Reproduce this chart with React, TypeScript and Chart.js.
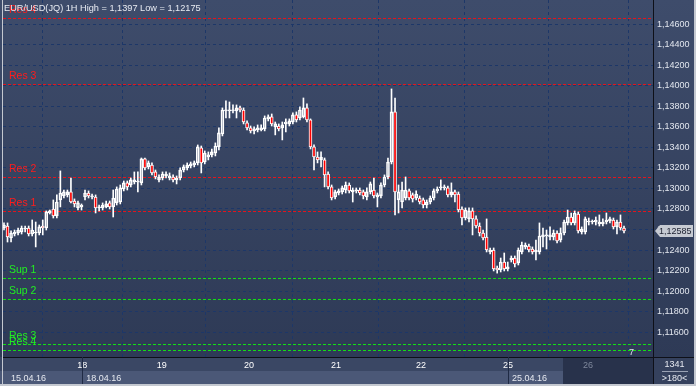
import React, { useEffect, useRef } from 'react';
import { Chart, registerables } from 'chart.js';

Chart.register(...registerables);

const opens = [
  1.12615,1.12634,1.12517,1.12556,1.12566,1.12576,1.12605,1.12615,1.12556,1.12566,
  1.12566,1.12634,1.12615,1.12761,1.12800,1.12732,1.12888,1.12927,1.12937,1.12966,
  1.12878,1.12810,1.12820,1.12917,1.12956,1.12917,1.12917,1.12810,1.12810,1.12820,
  1.12859,1.12820,1.12859,1.12868,1.12995,1.13054,1.13034,1.13063,1.13063,1.13054,
  1.13288,1.13210,1.13229,1.13161,1.13083,1.13102,1.13122,1.13102,1.13112,1.13083,
  1.13102,1.13180,1.13200,1.13219,1.13229,1.13249,1.13395,1.13258,1.13307,1.13327,
  1.13346,1.13405,1.13531,1.13756,1.13756,1.13756,1.13756,1.13785,1.13765,1.13639,
  1.13590,1.13561,1.13570,1.13570,1.13580,1.13678,1.13697,1.13600,1.13609,1.13590,
  1.13629,1.13629,1.13648,1.13717,1.13687,1.13697,1.13785,1.13668,1.13405,1.13307,
  1.13278,1.13278,1.13141,1.13015,1.12917,1.12956,1.12966,1.12985,1.13034,1.12966,
  1.12976,1.12985,1.12966,1.12917,1.12966,1.12985,1.12917,1.12927,1.13034,1.13112,
  1.13258,1.13746,1.12888,1.12868,1.12907,1.12976,1.12937,1.12907,1.12907,1.12888,
  1.12839,1.12868,1.12907,1.12976,1.13005,1.13005,1.13005,1.12937,1.12966,1.12946,
  1.12800,1.12712,1.12703,1.12781,1.12703,1.12634,1.12566,1.12527,1.12381,1.12400,
  1.12225,1.12205,1.12283,1.12215,1.12303,1.12322,1.12274,1.12381,1.12430,1.12439,
  1.12410,1.12381,1.12381,1.12527,1.12537,1.12527,1.12527,1.12566,1.12498,1.12566,
  1.12664,1.12722,1.12664,1.12751,1.12576,1.12576,1.12673,1.12673,1.12673,1.12654,
  1.12654,1.12673,1.12683,1.12693,1.12625,1.12673,1.12615,
];

const highs = [
  1.12664,1.12664,1.12586,1.12595,1.12615,1.12634,1.12634,1.12634,1.12693,1.12673,
  1.12644,1.12693,1.12781,1.12790,1.12888,1.12937,1.13171,1.12985,1.12985,1.13102,
  1.12898,1.12878,1.12849,1.12985,1.12976,1.12946,1.12937,1.12839,1.12859,1.12878,
  1.12878,1.12985,1.13015,1.13034,1.13073,1.13073,1.13102,1.13161,1.13161,1.13297,
  1.13297,1.13268,1.13249,1.13180,1.13132,1.13161,1.13161,1.13151,1.13132,1.13122,
  1.13200,1.13229,1.13249,1.13258,1.13268,1.13424,1.13414,1.13366,1.13356,1.13385,
  1.13444,1.13590,1.13785,1.13853,1.13843,1.13814,1.13814,1.13804,1.13785,1.13658,
  1.13609,1.13600,1.13619,1.13619,1.13707,1.13717,1.13726,1.13648,1.13629,1.13648,
  1.13678,1.13678,1.13736,1.13746,1.13795,1.13882,1.13824,1.13678,1.13424,1.13356,
  1.13356,1.13297,1.13161,1.13034,1.12985,1.12995,1.13024,1.13063,1.13054,1.13005,
  1.13005,1.13005,1.12985,1.13005,1.13063,1.13102,1.12956,1.13054,1.13132,1.13297,
  1.13970,1.13882,1.13034,1.13063,1.13112,1.12995,1.12956,1.12976,1.12927,1.12907,
  1.12888,1.12927,1.12995,1.13015,1.13083,1.13034,1.13024,1.13054,1.12985,1.12966,
  1.12820,1.12810,1.12810,1.12810,1.12732,1.12664,1.12595,1.12703,1.12420,1.12420,
  1.12244,1.12322,1.12371,1.12283,1.12342,1.12342,1.12420,1.12478,1.12469,1.12459,
  1.12430,1.12498,1.12664,1.12615,1.12595,1.12625,1.12595,1.12586,1.12615,1.12693,
  1.12790,1.12761,1.12781,1.12771,1.12625,1.12722,1.12712,1.12693,1.12722,1.12742,
  1.12703,1.12761,1.12722,1.12712,1.12693,1.12742,1.12634,
];

const lows = [
  1.12595,1.12478,1.12478,1.12537,1.12547,1.12556,1.12576,1.12537,1.12537,1.12430,
  1.12547,1.12547,1.12595,1.12751,1.12712,1.12712,1.12820,1.12907,1.12917,1.12859,
  1.12820,1.12790,1.12790,1.12888,1.12907,1.12898,1.12761,1.12781,1.12790,1.12810,
  1.12800,1.12722,1.12839,1.12849,1.12976,1.12985,1.13015,1.13044,1.12966,1.13034,
  1.13180,1.13190,1.13132,1.13093,1.13063,1.13083,1.13102,1.13083,1.13063,1.13044,
  1.13083,1.13161,1.13180,1.13200,1.13210,1.13229,1.13151,1.13239,1.13278,1.13307,
  1.13317,1.13375,1.13512,1.13687,1.13687,1.13736,1.13687,1.13746,1.13629,1.13570,
  1.13541,1.13531,1.13551,1.13561,1.13561,1.13658,1.13609,1.13522,1.13561,1.13473,
  1.13551,1.13609,1.13629,1.13648,1.13668,1.13687,1.13648,1.13385,1.13180,1.13249,
  1.13210,1.13015,1.12995,1.12888,1.12898,1.12937,1.12946,1.12956,1.12956,1.12868,
  1.12956,1.12937,1.12898,1.12888,1.12946,1.12907,1.12820,1.12907,1.13015,1.13093,
  1.13239,1.12742,1.12761,1.12810,1.12888,1.12888,1.12868,1.12888,1.12849,1.12810,
  1.12810,1.12849,1.12888,1.12956,1.12985,1.12985,1.12917,1.12917,1.12868,1.12771,
  1.12644,1.12693,1.12673,1.12547,1.12615,1.12537,1.12498,1.12381,1.12361,1.12196,
  1.12175,1.12186,1.12196,1.12196,1.12283,1.12235,1.12254,1.12361,1.12410,1.12381,
  1.12361,1.12303,1.12361,1.12430,1.12410,1.12498,1.12498,1.12469,1.12478,1.12547,
  1.12644,1.12644,1.12644,1.12566,1.12556,1.12556,1.12644,1.12654,1.12644,1.12634,
  1.12634,1.12654,1.12664,1.12605,1.12556,1.12595,1.12566,
];

const closes = [
  1.12644,1.12527,1.12566,1.12576,1.12595,1.12615,1.12615,1.12556,1.12595,1.12568,
  1.12625,1.12615,1.12771,1.12781,1.12732,1.12868,1.12956,1.12966,1.12966,1.12868,
  1.12849,1.12859,1.12839,1.12956,1.12927,1.12927,1.12810,1.12812,1.12839,1.12849,
  1.12820,1.12907,1.12995,1.13005,1.13054,1.13015,1.13083,1.13083,1.13073,1.13288,
  1.13200,1.13249,1.13151,1.13112,1.13112,1.13141,1.13141,1.13122,1.13083,1.13102,
  1.13180,1.13210,1.13229,1.13239,1.13249,1.13405,1.13249,1.13346,1.13327,1.13356,
  1.13414,1.13541,1.13765,1.13765,1.13765,1.13765,1.13785,1.13765,1.13648,1.13590,
  1.13561,1.13580,1.13590,1.13590,1.13687,1.13697,1.13629,1.13629,1.13580,1.13619,
  1.13648,1.13658,1.13717,1.13668,1.13765,1.13785,1.13668,1.13405,1.13307,1.13278,
  1.13307,1.13132,1.13015,1.12907,1.12966,1.12976,1.13005,1.13034,1.12976,1.12985,
  1.12985,1.12956,1.12927,1.12966,1.13044,1.12927,1.12937,1.13034,1.13112,1.13258,
  1.13746,1.12966,1.12966,1.12985,1.12985,1.12907,1.12898,1.12946,1.12868,1.12839,
  1.12868,1.12907,1.12976,1.12995,1.13015,1.13015,1.12937,1.12966,1.12937,1.12790,
  1.12712,1.12790,1.12781,1.12703,1.12634,1.12566,1.12517,1.12400,1.12400,1.12215,
  1.12205,1.12283,1.12215,1.12235,1.12322,1.12264,1.12400,1.12449,1.12449,1.12400,
  1.12381,1.12400,1.12537,1.12547,1.12547,1.12547,1.12566,1.12488,1.12566,1.12673,
  1.12722,1.12664,1.12761,1.12586,1.12605,1.12703,1.12683,1.12683,1.12693,1.12673,
  1.12673,1.12693,1.12703,1.12625,1.12673,1.12615,1.12585,
];

// day boundaries (in candle index units) and their labels
const dayLabels = ['18', '19', '20', '21', '22', '25', '26'];
const dayStarts = [22.23, 44.77, 69.55, 94.25, 118.37, 143.07, 165.78];
const dateLabels = ['15.04.16', '18.04.16', '25.04.16'];
const dateStarts = [-0.28, 22.23, 143.07];
const futureStart = 158.7;

const yTickValues = [1.116, 1.118, 1.12, 1.122, 1.124, 1.126, 1.128, 1.13, 1.132, 1.134, 1.136, 1.138, 1.14, 1.142, 1.144, 1.146];
const yMin = 1.113573;
const yMax = 1.148368;
const xMin = -0.284;
const xMax = 184.23;

const levelNames = ['Res 4', 'Res 3', 'Res 2', 'Res 1', 'Sup 1', 'Sup 2', 'Res 3', 'Res 4'];
const levelValues = [1.14662, 1.14016, 1.13109, 1.12781, 1.12124, 1.1192, 1.11481, 1.11425];
const levelKinds = ['res', 'res', 'res', 'res', 'sup', 'sup', 'sup', 'sup'];

const symbolTitle = 'EUR/USD(JQ) 1H';
const periodHigh = 1.1397;
const periodLow = 1.12175;
const barTotal = '1341';
const visibleBars = '>180<';
const pageLabel = '7';

const FONT = "'Liberation Sans', Arial, sans-serif";
const fmt = (v: number) => String(v).replace('.', ',');

const bgPlugin = {
  id: 'bgPlugin',
  beforeDraw(chart: any) {
    const { ctx, chartArea: a, width, height } = chart;
    const xs = chart.scales.x;
    ctx.save();
    const g = ctx.createLinearGradient(0, 0, 0, a.bottom);
    g.addColorStop(0, '#3e4c6b');
    g.addColorStop(1, '#2e3a56');
    ctx.fillStyle = g;
    ctx.fillRect(0, 0, width, a.bottom);
    const fx = Math.round(xs.getPixelForValue(futureStart));
    ctx.fillStyle = '#3a4764';
    ctx.fillRect(0, a.bottom, fx, 14);
    ctx.fillStyle = '#4b5877';
    ctx.fillRect(0, a.bottom + 14, fx, height - a.bottom - 14);
    ctx.fillStyle = '#28324b';
    ctx.fillRect(fx, a.bottom, a.right - fx, height - a.bottom);
    ctx.fillStyle = '#35415d';
    ctx.fillRect(a.right, a.bottom, width - a.right, height - a.bottom);
    ctx.restore();
  },
};

const levelPlugin = {
  id: 'levelPlugin',
  beforeDatasetsDraw(chart: any) {
    const { ctx, chartArea: a } = chart;
    const ys = chart.scales.y;
    ctx.save();
    ctx.lineWidth = 1;
    ctx.setLineDash([3, 2]);
    levelValues.forEach((v, i) => {
      const y = Math.round(ys.getPixelForValue(v)) + 0.5;
      ctx.strokeStyle = levelKinds[i] === 'res' && i < 4 ? '#e4141c' : '#12e012';
      ctx.beginPath();
      ctx.moveTo(a.left, y);
      ctx.lineTo(a.right, y);
      ctx.stroke();
    });
    ctx.restore();
  },
};

const overlayPlugin = {
  id: 'overlayPlugin',
  afterDraw(chart: any) {
    const { ctx, chartArea: a, width, height } = chart;
    const ys = chart.scales.y;
    const xs = chart.scales.x;
    ctx.save();
    // level labels
    ctx.font = `10.5px ${FONT}`;
    ctx.textAlign = 'left';
    ctx.textBaseline = 'middle';
    levelValues.forEach((v, i) => {
      const y = ys.getPixelForValue(v);
      ctx.fillStyle = i < 4 ? '#ff1c1c' : '#22ee22';
      ctx.fillText(levelNames[i], 9, y - 8);
    });
    // title
    ctx.font = `9.2px ${FONT}`;
    ctx.fillStyle = '#e8ebf2';
    ctx.fillText(`${symbolTitle} High = ${fmt(periodHigh)} Low = ${fmt(periodLow)}`, 4, 8.5);

    // frame lines
    ctx.fillStyle = '#0e1018';
    ctx.fillRect(a.right, 0, 1, height);
    ctx.fillRect(a.left, a.bottom, width - a.left, 1);
    ctx.fillStyle = '#c4c8d0';
    ctx.fillRect(2, 0, 1, height);
    ctx.fillRect(width - 2, 0, 2, height);
    ctx.fillRect(0, height - 2, width, 2);

    // date separators and labels in bottom strip
    ctx.fillStyle = '#1f2a44';
    dateStarts.forEach((d, i) => {
      if (i === 0) return;
      const x = Math.round(xs.getPixelForValue(d));
      ctx.fillRect(x, a.bottom, 1, height - a.bottom - 2);
    });
    ctx.font = `9px ${FONT}`;
    ctx.fillStyle = '#e6e9f0';
    dateLabels.forEach((t, i) => {
      const x = i === 0 ? a.left + 8 : xs.getPixelForValue(dateStarts[i]) + 4;
      ctx.fillText(t, x, a.bottom + 22);
    });

    // page label
    ctx.fillStyle = '#e6e9f0';
    ctx.fillText(pageLabel, 629, a.bottom - 4);

    // bottom right box
    ctx.textAlign = 'center';
    ctx.fillText(barTotal, (a.right + width) / 2, a.bottom + 7.5);
    ctx.fillText(visibleBars, (a.right + width) / 2, a.bottom + 21.5);
    ctx.fillStyle = '#9aa2b4';
    ctx.fillRect(a.right + 9, a.bottom + 14, 26, 1);

    // current price tag
    const last = closes[closes.length - 1];
    const py = Math.round(ys.getPixelForValue(last));
    ctx.fillStyle = '#c6cad2';
    ctx.beginPath();
    ctx.moveTo(a.right + 2, py);
    ctx.lineTo(a.right + 7, py - 6);
    ctx.lineTo(width - 3, py - 6);
    ctx.lineTo(width - 3, py + 6);
    ctx.lineTo(a.right + 7, py + 6);
    ctx.closePath();
    ctx.fill();
    ctx.fillStyle = '#1c2030';
    ctx.textAlign = 'left';
    ctx.font = `9px ${FONT}`;
    ctx.fillText(fmt(last), a.right + 6, py + 0.5);
    ctx.restore();
  },
};

export default function App() {
  const ref = useRef<HTMLCanvasElement>(null);
  useEffect(() => {
    document.body.style.margin = '0';
    const canvas = ref.current;
    if (!canvas) return;
    const idx = opens.map((_, i) => i);
    const bodies = idx.map((i) => ({ x: i, y: [opens[i], closes[i]] }));
    const upper = idx.map((i) => ({ x: i, y: [Math.max(opens[i], closes[i]), highs[i]] }));
    const lower = idx.map((i) => ({ x: i, y: [lows[i], Math.min(opens[i], closes[i])] }));
    const chart = new Chart(canvas, {
      type: 'bar',
      data: {
        datasets: [
          {
            data: bodies as any,
            barThickness: 3,
            borderWidth: 1,
            borderColor: '#ffffff',
            borderSkipped: false,
            backgroundColor: idx.map((i) => (closes[i] < opens[i] ? '#ff0000' : 'rgba(0,0,0,0)')),
            grouped: false,
            minBarLength: 1,
          } as any,
          { data: upper as any, barThickness: 1, backgroundColor: '#ffffff', borderWidth: 0, grouped: false } as any,
          { data: lower as any, barThickness: 1, backgroundColor: '#ffffff', borderWidth: 0, grouped: false } as any,
        ],
      },
      options: {
        responsive: false,
        maintainAspectRatio: false,
        animation: false,
        devicePixelRatio: 1,
        layout: { padding: { left: 3, right: 0, top: 0, bottom: 0 } },
        plugins: { legend: { display: false }, tooltip: { enabled: false }, title: { display: false } },
        scales: {
          x: {
            type: 'linear',
            min: xMin,
            max: xMax,
            bounds: 'data',
            offset: false,
            afterBuildTicks: (s: any) => {
              s.ticks = dayStarts.map((v) => ({ value: v }));
            },
            afterFit: (s: any) => {
              s.height = 29;
              s.paddingLeft = 0;
              s.paddingRight = 0;
              s.paddingTop = 0;
              s.paddingBottom = 0;
            },
            ticks: {
              autoSkip: false,
              maxRotation: 0,
              padding: 3,
              font: { family: FONT, size: 9 },
              color: (c: any) => (c.tick && c.tick.value > futureStart ? '#7f889c' : '#ffffff'),
              callback: (_v: any, i: number) => dayLabels[i],
            },
            grid: { color: '#1d3768', drawTicks: false, lineWidth: 1 },
            border: { display: false, dash: [3, 3] },
          },
          y: {
            type: 'linear',
            position: 'right',
            min: yMin,
            max: yMax,
            bounds: 'data',
            afterBuildTicks: (s: any) => {
              s.ticks = yTickValues.map((v) => ({ value: v }));
            },
            afterFit: (s: any) => {
              s.width = 43;
              s.paddingTop = 0;
              s.paddingBottom = 0;
              s.paddingLeft = 0;
              s.paddingRight = 0;
            },
            ticks: {
              padding: 4,
              crossAlign: 'near',
              font: { family: FONT, size: 9 },
              color: '#e2e6ee',
              callback: (v: any) => Number(v).toFixed(5).replace('.', ','),
            },
            grid: { color: '#1d3768', drawTicks: false, lineWidth: 1 },
            border: { display: false, dash: [3, 3] },
          },
        },
      } as any,
      plugins: [bgPlugin, levelPlugin, overlayPlugin],
    });
    return () => chart.destroy();
  }, []);
  return <canvas ref={ref} width={696} height={386} style={{ display: 'block' }} />;
}
